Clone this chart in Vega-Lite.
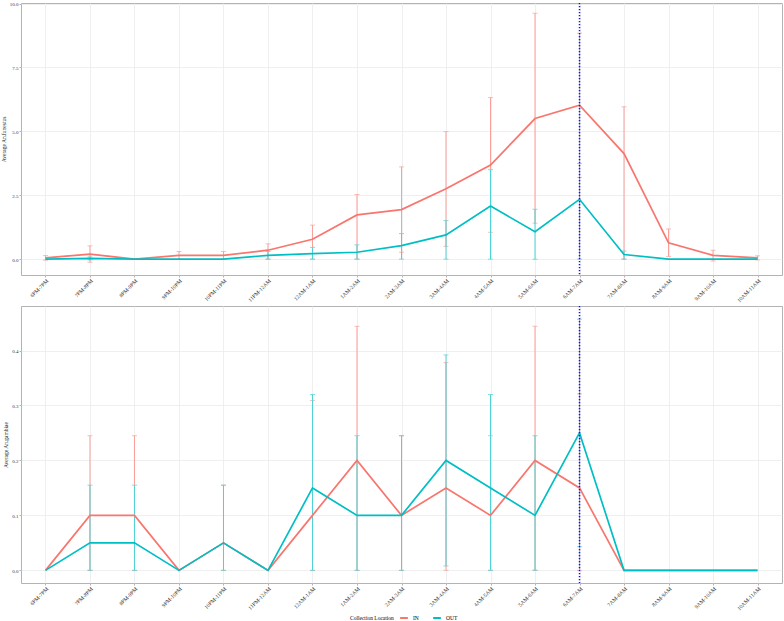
{
  "$schema": "https://vega.github.io/schema/vega-lite/v6.json",
  "background": "white",
  "padding": {"left": 0, "top": 1, "right": 3, "bottom": 0},
  "spacing": 0,
  "datasets": {
    "fun": [
      {"time": "6PM-7PM", "loc": "IN", "mean": 0.05, "lo": -0.04, "hi": 0.14},
      {"time": "7PM-8PM", "loc": "IN", "mean": 0.2, "lo": -0.12, "hi": 0.52},
      {"time": "8PM-9PM", "loc": "IN", "mean": 0, "lo": null, "hi": null},
      {"time": "9PM-10PM", "loc": "IN", "mean": 0.15, "lo": 0, "hi": 0.3},
      {"time": "10PM-11PM", "loc": "IN", "mean": 0.15, "lo": 0, "hi": 0.3},
      {"time": "11PM-12AM", "loc": "IN", "mean": 0.35, "lo": 0, "hi": 0.6},
      {"time": "12AM-1AM", "loc": "IN", "mean": 0.78, "lo": 0, "hi": 1.33},
      {"time": "1AM-2AM", "loc": "IN", "mean": 1.73, "lo": 0, "hi": 2.53},
      {"time": "2AM-3AM", "loc": "IN", "mean": 1.94, "lo": 0.27, "hi": 3.61},
      {"time": "3AM-4AM", "loc": "IN", "mean": 2.75, "lo": 0.5, "hi": 4.99},
      {"time": "4AM-5AM", "loc": "IN", "mean": 3.68, "lo": 1.05, "hi": 6.32},
      {"time": "5AM-6AM", "loc": "IN", "mean": 5.5, "lo": 1.4, "hi": 9.62},
      {"time": "6AM-7AM", "loc": "IN", "mean": 6.02, "lo": 3.2, "hi": 8.84},
      {"time": "7AM-8AM", "loc": "IN", "mean": 4.13, "lo": 0, "hi": 5.96},
      {"time": "8AM-9AM", "loc": "IN", "mean": 0.64, "lo": 0.1, "hi": 1.18},
      {"time": "9AM-10AM", "loc": "IN", "mean": 0.15, "lo": -0.07, "hi": 0.35},
      {"time": "10AM-11AM", "loc": "IN", "mean": 0.05, "lo": -0.03, "hi": 0.13},
      {"time": "6PM-7PM", "loc": "OUT", "mean": 0, "lo": null, "hi": null},
      {"time": "7PM-8PM", "loc": "OUT", "mean": 0.03, "lo": -0.03, "hi": 0.09},
      {"time": "8PM-9PM", "loc": "OUT", "mean": 0, "lo": null, "hi": null},
      {"time": "9PM-10PM", "loc": "OUT", "mean": 0, "lo": null, "hi": null},
      {"time": "10PM-11PM", "loc": "OUT", "mean": 0, "lo": null, "hi": null},
      {"time": "11PM-12AM", "loc": "OUT", "mean": 0.15, "lo": 0, "hi": 0.3},
      {"time": "12AM-1AM", "loc": "OUT", "mean": 0.22, "lo": 0, "hi": 0.46},
      {"time": "1AM-2AM", "loc": "OUT", "mean": 0.27, "lo": 0, "hi": 0.56},
      {"time": "2AM-3AM", "loc": "OUT", "mean": 0.53, "lo": 0, "hi": 1.0},
      {"time": "3AM-4AM", "loc": "OUT", "mean": 0.95, "lo": 0, "hi": 1.51},
      {"time": "4AM-5AM", "loc": "OUT", "mean": 2.08, "lo": 0, "hi": 3.5},
      {"time": "5AM-6AM", "loc": "OUT", "mean": 1.07, "lo": 0, "hi": 1.95},
      {"time": "6AM-7AM", "loc": "OUT", "mean": 2.34, "lo": 0, "hi": 3.74},
      {"time": "7AM-8AM", "loc": "OUT", "mean": 0.18, "lo": 0, "hi": 0.32},
      {"time": "8AM-9AM", "loc": "OUT", "mean": 0, "lo": null, "hi": null},
      {"time": "9AM-10AM", "loc": "OUT", "mean": 0, "lo": null, "hi": null},
      {"time": "10AM-11AM", "loc": "OUT", "mean": 0, "lo": null, "hi": null}
    ],
    "gam": [
      {"time": "6PM-7PM", "loc": "IN", "mean": 0, "lo": null, "hi": null},
      {"time": "7PM-8PM", "loc": "IN", "mean": 0.1, "lo": 0, "hi": 0.245},
      {"time": "8PM-9PM", "loc": "IN", "mean": 0.1, "lo": 0, "hi": 0.245},
      {"time": "9PM-10PM", "loc": "IN", "mean": 0, "lo": null, "hi": null},
      {"time": "10PM-11PM", "loc": "IN", "mean": 0.05, "lo": 0, "hi": 0.155},
      {"time": "11PM-12AM", "loc": "IN", "mean": 0, "lo": null, "hi": null},
      {"time": "12AM-1AM", "loc": "IN", "mean": 0.1, "lo": 0, "hi": 0.309},
      {"time": "1AM-2AM", "loc": "IN", "mean": 0.2, "lo": 0, "hi": 0.444},
      {"time": "2AM-3AM", "loc": "IN", "mean": 0.1, "lo": 0, "hi": 0.245},
      {"time": "3AM-4AM", "loc": "IN", "mean": 0.15, "lo": 0, "hi": 0.378},
      {"time": "4AM-5AM", "loc": "IN", "mean": 0.1, "lo": 0, "hi": 0.245},
      {"time": "5AM-6AM", "loc": "IN", "mean": 0.2, "lo": 0, "hi": 0.444},
      {"time": "6AM-7AM", "loc": "IN", "mean": 0.15, "lo": 0, "hi": 0.321},
      {"time": "7AM-8AM", "loc": "IN", "mean": 0, "lo": null, "hi": null},
      {"time": "8AM-9AM", "loc": "IN", "mean": 0, "lo": null, "hi": null},
      {"time": "9AM-10AM", "loc": "IN", "mean": 0, "lo": null, "hi": null},
      {"time": "10AM-11AM", "loc": "IN", "mean": 0, "lo": null, "hi": null},
      {"time": "6PM-7PM", "loc": "OUT", "mean": 0, "lo": null, "hi": null},
      {"time": "7PM-8PM", "loc": "OUT", "mean": 0.05, "lo": 0, "hi": 0.155},
      {"time": "8PM-9PM", "loc": "OUT", "mean": 0.05, "lo": 0, "hi": 0.155},
      {"time": "9PM-10PM", "loc": "OUT", "mean": 0, "lo": null, "hi": null},
      {"time": "10PM-11PM", "loc": "OUT", "mean": 0.05, "lo": 0, "hi": 0.155},
      {"time": "11PM-12AM", "loc": "OUT", "mean": 0, "lo": null, "hi": null},
      {"time": "12AM-1AM", "loc": "OUT", "mean": 0.15, "lo": 0, "hi": 0.32},
      {"time": "1AM-2AM", "loc": "OUT", "mean": 0.1, "lo": 0, "hi": 0.245},
      {"time": "2AM-3AM", "loc": "OUT", "mean": 0.1, "lo": 0, "hi": 0.245},
      {"time": "3AM-4AM", "loc": "OUT", "mean": 0.2, "lo": 0.008, "hi": 0.392},
      {"time": "4AM-5AM", "loc": "OUT", "mean": 0.15, "lo": 0, "hi": 0.32},
      {"time": "5AM-6AM", "loc": "OUT", "mean": 0.1, "lo": 0, "hi": 0.245},
      {"time": "6AM-7AM", "loc": "OUT", "mean": 0.25, "lo": 0.043, "hi": 0.457},
      {"time": "7AM-8AM", "loc": "OUT", "mean": 0, "lo": null, "hi": null},
      {"time": "8AM-9AM", "loc": "OUT", "mean": 0, "lo": null, "hi": null},
      {"time": "9AM-10AM", "loc": "OUT", "mean": 0, "lo": null, "hi": null},
      {"time": "10AM-11AM", "loc": "OUT", "mean": 0, "lo": null, "hi": null}
    ],
    "vline": [{"time": "6AM-7AM"}]
  },
  "vconcat": [
    {
      "width": 761,
      "height": 272,
      "data": {"name": "fun"},
      "encoding": {
        "x": {
          "field": "time", "type": "ordinal",
          "sort": ["6PM-7PM","7PM-8PM","8PM-9PM","9PM-10PM","10PM-11PM","11PM-12AM","12AM-1AM","1AM-2AM","2AM-3AM","3AM-4AM","4AM-5AM","5AM-6AM","6AM-7AM","7AM-8AM","8AM-9AM","9AM-10AM","10AM-11AM"],
          "scale": {"type": "point", "padding": 0.55},
          "axis": {"title": null, "grid": true}
        }
      },
      "layer": [
        {
          "transform": [{"filter": "datum.hi != null"}],
          "mark": {"type": "errorbar", "ticks": {"size": 5}, "thickness": 1},
          "encoding": {
            "y": {
              "field": "lo", "type": "quantitative",
              "scale": {"domain": [-0.62, 10.02], "nice": false, "zero": false},
              "axis": {
                "title": "Average An.funestus",
                "values": [0, 1.25, 2.5, 3.75, 5, 6.25, 7.5, 8.75, 10],
                "labelExpr": "round(datum.value/1.25) % 2 == 0 ? format(datum.value, '.1f') : ''",
                "tickOpacity": {"condition": {"test": "round(datum.value/1.25) % 2 != 0", "value": 0}, "value": 1},
                "gridWidth": {"condition": {"test": "round(datum.value/1.25) % 2 != 0", "value": 0.5}, "value": 0.8}
              }
            },
            "y2": {"field": "hi"},
            "color": {"condition": {"test": "datum.loc == 'IN'", "value": "#FA9F99"}, "value": "#4DD2D6"}
          }
        },
        {
          "mark": {"type": "line", "strokeWidth": 1.7},
          "encoding": {
            "y": {"field": "mean", "type": "quantitative", "title": "Average An.funestus"},
            "color": {"field": "loc", "type": "nominal", "title": "Collection Location"}
          }
        },
        {
          "data": {"name": "vline"},
          "mark": {"type": "rule", "color": "#1010F0", "strokeDash": [1.3, 1.7], "strokeWidth": 1.5},
          "encoding": {"x": {"field": "time", "type": "ordinal"}}
        }
      ]
    },
    {
      "width": 761,
      "height": 277,
      "data": {"name": "gam"},
      "encoding": {
        "x": {
          "field": "time", "type": "ordinal",
          "sort": ["6PM-7PM","7PM-8PM","8PM-9PM","9PM-10PM","10PM-11PM","11PM-12AM","12AM-1AM","1AM-2AM","2AM-3AM","3AM-4AM","4AM-5AM","5AM-6AM","6AM-7AM","7AM-8AM","8AM-9AM","9AM-10AM","10AM-11AM"],
          "scale": {"type": "point", "padding": 0.55},
          "axis": {"title": null, "grid": true}
        }
      },
      "layer": [
        {
          "transform": [{"filter": "datum.hi != null"}],
          "mark": {"type": "errorbar", "ticks": {"size": 5}, "thickness": 1},
          "encoding": {
            "y": {
              "field": "lo", "type": "quantitative",
              "scale": {"domain": [-0.023, 0.481], "nice": false, "zero": false},
              "axis": {
                "title": "Average An.gambiae",
                "values": [0, 0.05, 0.1, 0.15, 0.2, 0.25, 0.3, 0.35, 0.4, 0.45],
                "labelExpr": "round(datum.value*20) % 2 == 0 ? format(datum.value, '.1f') : ''",
                "tickOpacity": {"condition": {"test": "round(datum.value*20) % 2 != 0", "value": 0}, "value": 1},
                "gridWidth": {"condition": {"test": "round(datum.value*20) % 2 != 0", "value": 0.5}, "value": 0.8}
              }
            },
            "y2": {"field": "hi"},
            "color": {"condition": {"test": "datum.loc == 'IN'", "value": "#FA9F99"}, "value": "#4DD2D6"}
          }
        },
        {
          "mark": {"type": "line", "strokeWidth": 1.7},
          "encoding": {
            "y": {"field": "mean", "type": "quantitative", "title": "Average An.gambiae"},
            "color": {"field": "loc", "type": "nominal", "title": "Collection Location"}
          }
        },
        {
          "data": {"name": "vline"},
          "mark": {"type": "rule", "color": "#1010F0", "strokeDash": [1.3, 1.7], "strokeWidth": 1.5},
          "encoding": {"x": {"field": "time", "type": "ordinal"}}
        }
      ]
    }
  ],
  "resolve": {"scale": {"color": "shared"}},
  "config": {
    "font": "Liberation Serif",
    "view": {"stroke": "#B3B3B3", "strokeWidth": 1},
    "range": {"category": ["#F8766D", "#00BFC4"]},
    "axis": {
      "labelFont": "Liberation Serif",
      "titleFont": "Liberation Serif",
      "labelFontSize": 5.5,
      "titleFontSize": 5.5,
      "titleFontWeight": "normal",
      "labelColor": "#333333",
      "titleColor": "#222222",
      "domain": false,
      "tickColor": "#B3B3B3",
      "tickSize": 2,
      "labelPadding": 1,
      "titlePadding": 3,
      "gridColor": "#EBEBEB",
      "gridWidth": 0.8
    },
    "axisX": {"labelAngle": -45, "labelAlign": "right", "labelBaseline": "top"},
    "axisY": {"labelFontSize": 5},
    "legend": {
      "orient": "none",
      "legendX": 329,
      "legendY": 610,
      "direction": "horizontal",
      "titleOrient": "left",
      "titleFont": "Liberation Serif",
      "labelFont": "Liberation Serif",
      "titleFontSize": 5.5,
      "labelFontSize": 5.5,
      "titleFontWeight": "normal",
      "symbolType": "stroke",
      "symbolStrokeWidth": 2,
      "symbolSize": 60,
      "padding": 0
    }
  }
}
